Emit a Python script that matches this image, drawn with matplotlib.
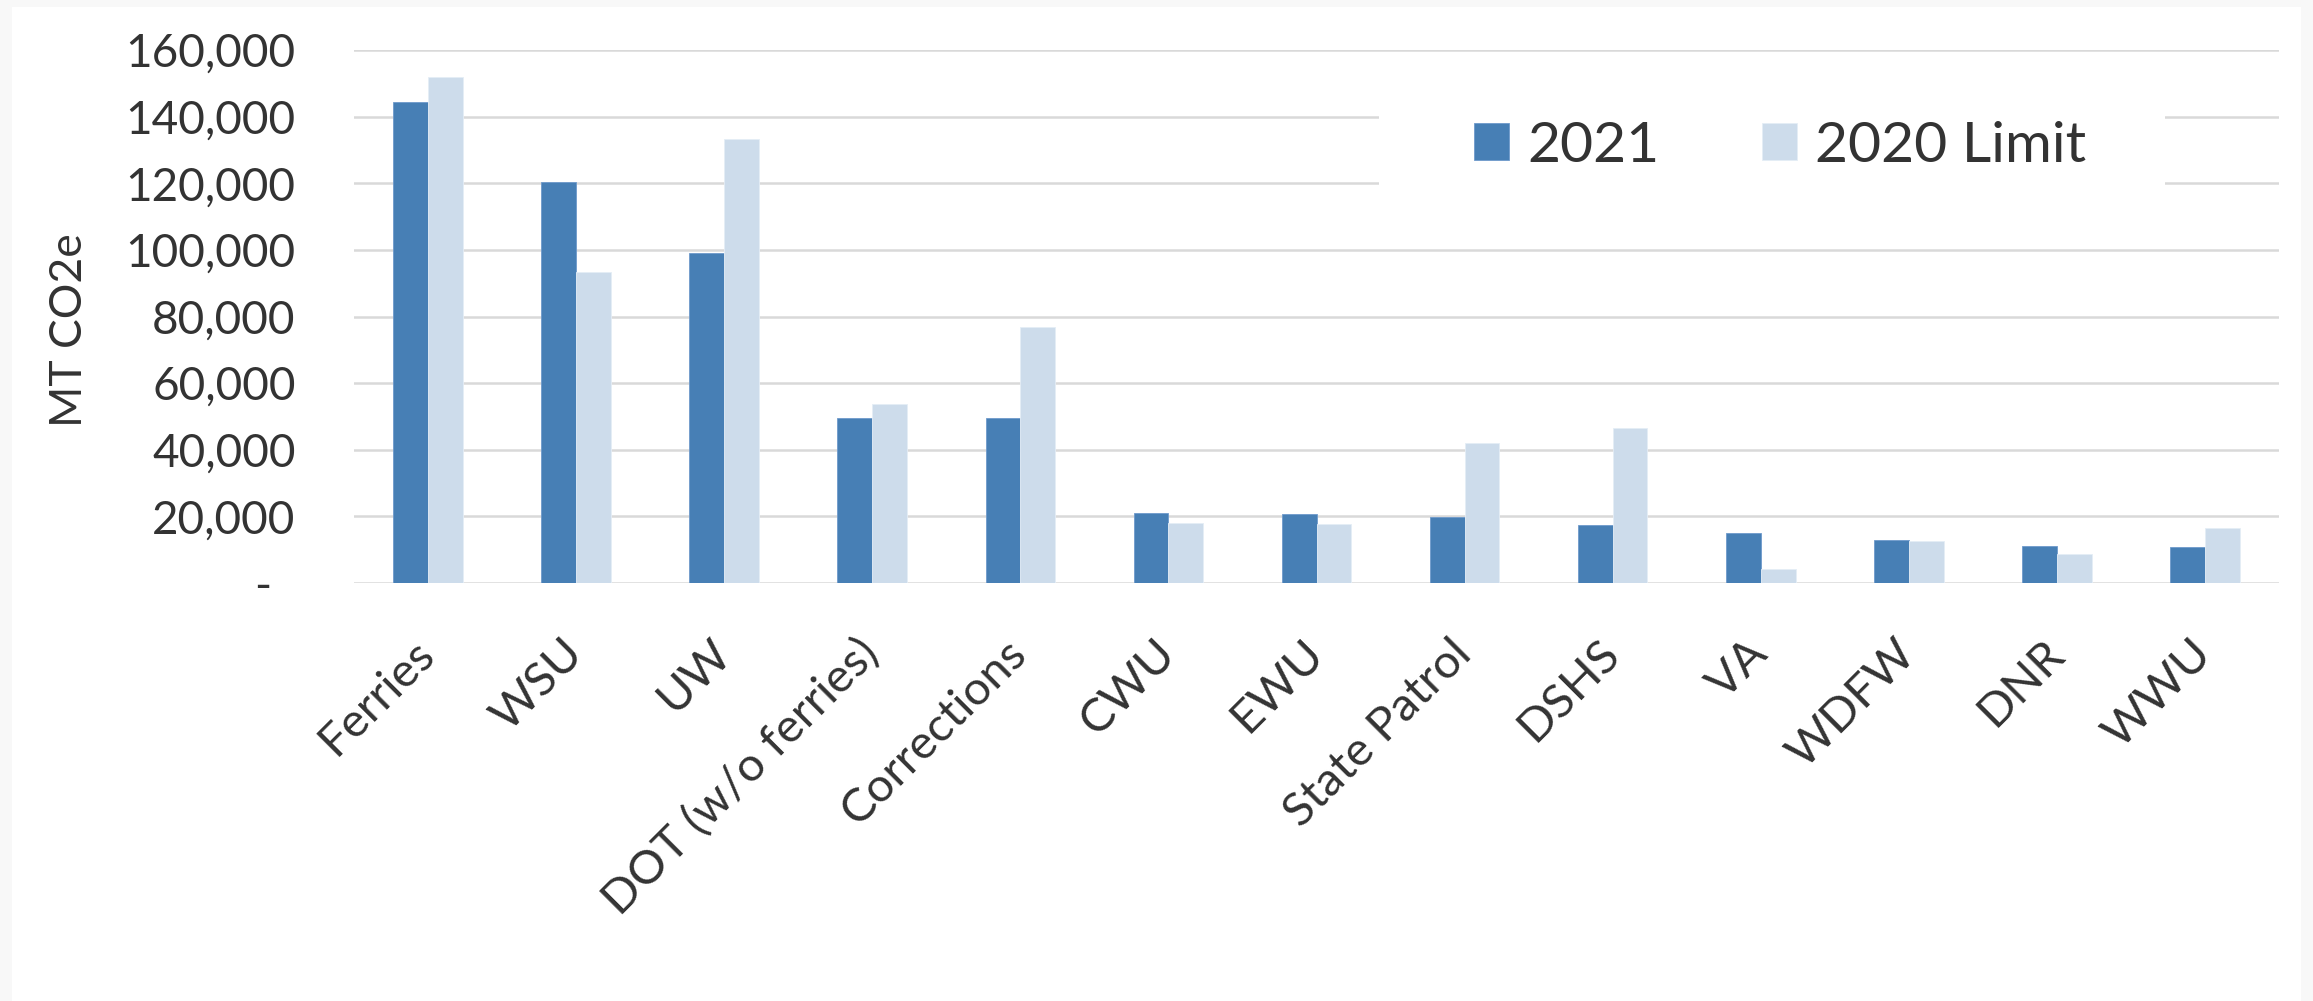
import numpy as np
import matplotlib

matplotlib.use("Agg")
import matplotlib.pyplot as plt
from matplotlib.patches import Rectangle
from matplotlib.ticker import FuncFormatter, MultipleLocator

categories = ["Ferries", "WSU", "UW", "DOT (w/o ferries)", "Corrections", "CWU", "EWU",
              "State Patrol", "DSHS", "VA", "WDFW", "DNR", "WWU"]
emissions_2021 = [144500, 120300, 99100, 49600, 49600, 20900, 20700,
                  19700, 17400, 14900, 12800, 11200, 10800]
limit_2020 = [152000, 93300, 133400, 53600, 76800, 17900, 17600,
              42100, 46500, 4200, 12600, 8600, 16400]
series_labels = ["2021", "2020 Limit"]

DPI = 100
W, H = 2313, 1001
TEXT = "#333333"
plt.rcParams["font.family"] = ["Lato", "DejaVu Sans"]

fig = plt.figure(figsize=(W / DPI, H / DPI), dpi=DPI, facecolor="#f8f8f8")
# white chart area inside the thin grey border
fig.patches.append(Rectangle((12 / W, 0), (2301 - 12) / W, 1 - 7 / H,
                             transform=fig.transFigure, facecolor="white",
                             edgecolor="none", zorder=-1))

ax = fig.add_axes([354 / W, 1 - 583 / H, (2279 - 354) / W, (583 - 50) / H])
ax.set_facecolor("white")

x = np.arange(len(categories))
w = 0.235
ax.bar(x - w / 2, emissions_2021, w, color="#477fb5", edgecolor="#6e9acb",
       linewidth=0.6, label=series_labels[0], zorder=2)
ax.bar(x + w / 2, limit_2020, w, color="#cddceb", edgecolor="#e4edf6",
       linewidth=0.6, label=series_labels[1], zorder=2)

ax.set_xlim(-0.5, len(categories) - 0.5)
ax.set_ylim(0, 160000)
ax.yaxis.set_major_locator(MultipleLocator(20000))
# zero is drawn separately as an accounting-style dash
ax.yaxis.set_major_formatter(FuncFormatter(lambda v, p: "" if v == 0 else f"{v:,.0f}"))
ax.grid(axis="y", color="#d9d9d9", linewidth=1.8, zorder=0.5)
ax.set_axisbelow(True)
for s in ax.spines.values():
    s.set_visible(False)

ax.tick_params(axis="y", length=0, pad=42, labelsize=33, labelcolor=TEXT)
ax.tick_params(axis="x", length=0, pad=46, labelsize=34, labelcolor=TEXT)
ax.set_xticks(x)
ax.set_xticklabels(categories, rotation=45, ha="right", va="center",
                   rotation_mode="anchor")

ax.text((271 - 354) / 1925, 0, "-", transform=ax.get_yaxis_transform(),
        ha="right", va="center_baseline", fontsize=33, color=TEXT, clip_on=False)

fig.text(70 / W, 1 - 330 / H, "MT CO2e", rotation=90, ha="center", va="center",
         fontsize=32, color=TEXT)

# white box behind the legend, breaking the gridlines
ax.add_patch(Rectangle((1379 / W, 1 - 228 / H), (2165 - 1379) / W, (228 - 75) / H,
                       transform=fig.transFigure, facecolor="white",
                       edgecolor="none", clip_on=False, zorder=1))
leg = ax.legend(loc="center", bbox_to_anchor=(1780 / W, 1 - 146 / H),
                bbox_transform=fig.transFigure, ncol=2, frameon=False,
                fontsize=41, handlelength=0.62, handleheight=0.63,
                handletextpad=0.32, columnspacing=1.8, labelcolor=TEXT)
leg.set_zorder(5)

fig.savefig("out.png", dpi=DPI, facecolor=fig.get_facecolor())
